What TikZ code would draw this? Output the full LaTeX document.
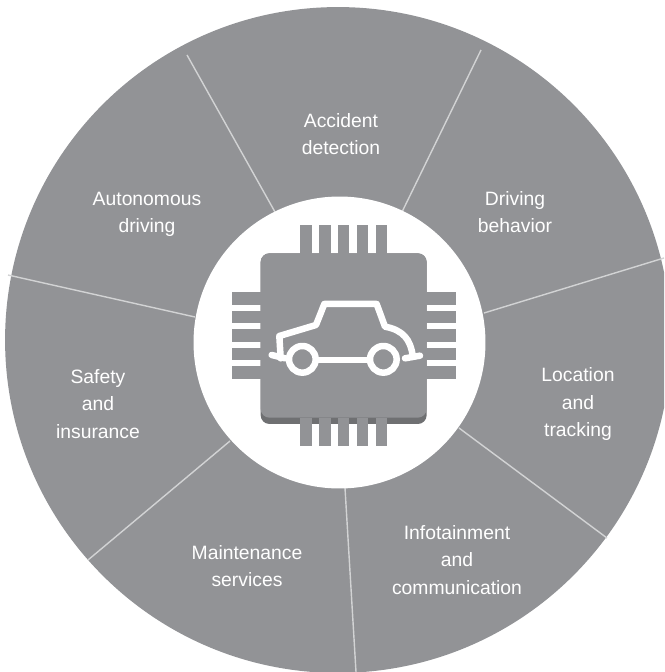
\documentclass[tikz,border=0pt]{standalone}
\usepackage{fontspec}
\setmainfont{Liberation Sans}
\usepackage{tikz}
\definecolor{wheelgray}{HTML}{929396}
\definecolor{chipshade}{HTML}{6F7072}
\definecolor{spokegray}{HTML}{D2D3D4}

\begin{document}
\begin{tikzpicture}[
            x=0.02cm, y=-0.02cm,
            disc/.style={circle, fill=wheelgray, minimum size=13.32cm, inner sep=0pt},
            hub/.style={circle, fill=white, minimum size=5.84cm, inner sep=0pt},
            spoke/.style={spokegray, line width=0.8pt},
            sector/.style={text=white, align=center, font=\fontsize{11}{15.5}\selectfont},
            pin/.style={wheelgray, line width=0pt, fill},
            carline/.style={white, line width=3.7pt, line join=round, line cap=round}]
            \useasboundingbox (0,0) rectangle (664,672);
            \begin{scope}
            \clip (0,0) rectangle (664,672);
            \node[disc] (wheel) at (338,340) {};
            \coordinate (e0) at (187,55);
            \coordinate (e1) at (481,50);
            \coordinate (e2) at (664,258);
            \coordinate (e3) at (607,538);
            \coordinate (e4) at (356,672);
            \coordinate (e5) at (88,560);
            \coordinate (e6) at (8,275);
            \coordinate (h0) at (275,212);
            \coordinate (h1) at (402,212);
            \coordinate (h2) at (484,313);
            \coordinate (h3) at (459,428);
            \coordinate (h4) at (345,488);
            \coordinate (h5) at (230,441);
            \coordinate (h6) at (195,317);
            \foreach \i in {0,...,6}
                \draw[spoke] (e\i) -- (h\i);
            \end{scope}
            \node[hub] (centre) at (339.5,342.5) {};

            \node[sector] (accident) at (341,324-190) {Accident\\detection};
            \node[sector] (driving)  at (515,212) {Driving\\behavior};
            \node[sector] (location) at (578,404) {Location\\and\\tracking};
            \node[sector] (infotain) at (457,560) {Infotainment\\and\\communication};
            \node[sector] (mainten)  at (247,566) {Maintenance\\services};
            \node[sector] (safety)   at (98,404)  {Safety\\and\\insurance};
            \node[sector] (auton)    at (147,214) {Autonomous\\driving};

            % chip and car
            \begin{scope}[shift={(190,190)}, x=0.00667cm, y=-0.00667cm]
            \fill[chipshade, rounded corners=5pt] (212,190) rectangle (710,702);
            \fill[wheelgray, rounded corners=5pt] (212,190) rectangle (710,683);
            \foreach \p in {330,387,443,500,557} {
                \fill[wheelgray] (\p,105) rectangle ++(35,86);
                \fill[wheelgray] (\p,683) rectangle ++(35,84);
            }
            \foreach \p in {307,362,418,473,528} {
                \fill[wheelgray] (125,\p) rectangle ++(88,38);
                \fill[wheelgray] (709,\p) rectangle ++(88,38);
            }
            \draw[carline] (272,505) -- (268,438) -- (378,405) -- (403,342) -- (560,342)
                -- (585,410) .. controls (640,420) and (662,450) .. (668,497);
            \draw[carline] (245,495) -- (285,505);
            \draw[carline] (645,505) -- (690,497);
            \draw[carline] (385,510) -- (535,510);
            \draw[carline] (337,508) circle (40);
            \draw[carline] (580,508) circle (40);
            \end{scope}
\end{tikzpicture}
\end{document}
